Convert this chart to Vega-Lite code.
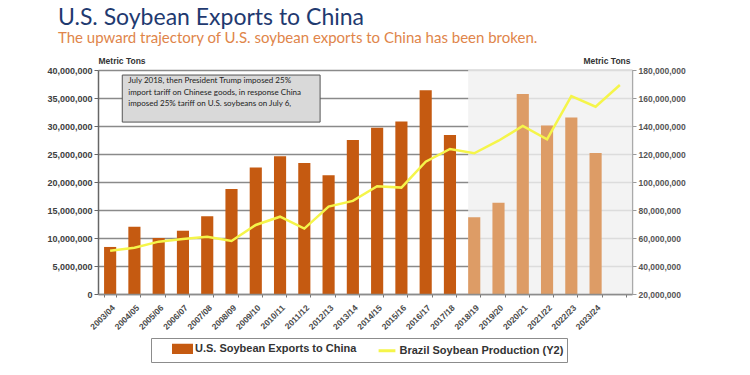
{
  "$schema": "https://vega.github.io/schema/vega-lite/v6.json",
  "width": 534,
  "height": 224,
  "autosize": {"type": "none"},
  "padding": {"left": 98, "top": 70, "right": 118, "bottom": 81},
  "background": "white",
  "title": {
    "text": "U.S. Soybean Exports to China",
    "subtitle": "The upward trajectory of U.S. soybean exports to China has been broken.",
    "anchor": "start",
    "frame": "group",
    "dx": -40,
    "font": "Lato",
    "fontSize": 23,
    "fontWeight": "normal",
    "color": "#1f3a70",
    "subtitleFont": "Lato",
    "subtitleFontSize": 15,
    "subtitleColor": "#e0854a",
    "subtitlePadding": 1,
    "offset": 10
  },
  "data": {
    "values": [
      {"year": "2003/04", "exports": 8400000, "brazil": 50900000},
      {"year": "2004/05", "exports": 12000000, "brazil": 53100000},
      {"year": "2005/06", "exports": 10000000, "brazil": 57400000},
      {"year": "2006/07", "exports": 11300000, "brazil": 59300000},
      {"year": "2007/08", "exports": 13900000, "brazil": 60900000},
      {"year": "2008/09", "exports": 18750000, "brazil": 57900000},
      {"year": "2009/10", "exports": 22600000, "brazil": 69300000},
      {"year": "2010/11", "exports": 24600000, "brazil": 75200000},
      {"year": "2011/12", "exports": 23400000, "brazil": 66700000},
      {"year": "2012/13", "exports": 21200000, "brazil": 82400000},
      {"year": "2013/14", "exports": 27500000, "brazil": 86500000},
      {"year": "2014/15", "exports": 29700000, "brazil": 97000000},
      {"year": "2015/16", "exports": 30800000, "brazil": 96000000},
      {"year": "2016/17", "exports": 36400000, "brazil": 114500000},
      {"year": "2017/18", "exports": 28400000, "brazil": 123600000},
      {"year": "2018/19", "exports": 13700000, "brazil": 120500000},
      {"year": "2019/20", "exports": 16300000, "brazil": 129500000},
      {"year": "2020/21", "exports": 35700000, "brazil": 140000000},
      {"year": "2021/22", "exports": 30100000, "brazil": 130500000},
      {"year": "2022/23", "exports": 31500000, "brazil": 161400000},
      {"year": "2023/24", "exports": 25200000, "brazil": 153800000},
      {"year": "2024/25", "exports": null, "brazil": 169300000}
    ]
  },
  "encoding": {
    "x": {
      "field": "year",
      "type": "ordinal",
      "title": null,
      "scale": {
        "domain": ["2003/04","2004/05","2005/06","2006/07","2007/08","2008/09","2009/10","2010/11","2011/12","2012/13","2013/14","2014/15","2015/16","2016/17","2017/18","2018/19","2019/20","2020/21","2021/22","2022/23","2023/24","2024/25"],
        "paddingInner": 0.5,
        "paddingOuter": 0.25
      },
      "axis": {
        "labelAngle": -45,
        "labelAlign": "right",
        "labelBaseline": "top",
        "labelExpr": "datum.value == '2024/25' ? '' : datum.value",
        "labelFont": "Liberation Sans",
        "labelFontSize": 8.5,
        "labelFontWeight": "bold",
        "labelColor": "#4a4a4a",
        "labelPadding": 6,
        "domainColor": "#8c8c8c",
        "domainWidth": 1.5,
        "tickBand": "extent",
        "tickColor": "#777777",
        "tickSize": 3,
        "grid": false
      }
    }
  },
  "layer": [
    {
      "layer": [
        {
          "data": {"values": [{"year": "2018/19"}]},
          "mark": {"type": "rect", "fill": "#f0f0f0", "opacity": 0.8},
          "encoding": {
            "x": {"field": "year", "type": "ordinal", "bandPosition": 0},
            "x2": {"value": "width"}
          }
        },
        {
          "mark": {"type": "bar"},
          "encoding": {
            "y": {
              "field": "exports",
              "type": "quantitative",
              "title": "Metric Tons",
              "scale": {"domain": [0, 40000000], "nice": false},
              "axis": {
                "values": [0,5000000,10000000,15000000,20000000,25000000,30000000,35000000,40000000],
                "labelOverlap": false,
                "format": ",d",
                "labelFont": "Liberation Sans",
                "labelFontSize": 9,
                "labelFontWeight": "bold",
                "labelColor": "#404040",
                "labelPadding": 2,
                "tickSize": 4,
                "tickColor": "#666666",
                "domainColor": "#666666",
                "domainWidth": 1.5,
                "grid": true,
                "gridColor": "#8a8a8a",
                "gridWidth": 1.5,
                "titleAngle": 0,
                "titleX": 0,
                "titleY": -5,
                "titleAlign": "left",
                "titleBaseline": "bottom",
                "titleFont": "Liberation Sans",
                "titleFontSize": 8.5,
                "titleFontWeight": "bold",
                "titleColor": "#333333"
              }
            },
            "color": {
              "datum": "U.S. Soybean Exports to China",
              "type": "nominal",
              "condition": {"test": "datum.year >= '2018/19'", "value": "#dd9c66"},
              "scale": {
                "domain": ["U.S. Soybean Exports to China", "Brazil Soybean Production (Y2)"],
                "range": ["#c55a11", "#f5f54a"]
              },
              "legend": {
                "orient": "none",
                "legendX": 53,
                "legendY": 268,
                "direction": "horizontal",
                "title": null,
                "labelFont": "Liberation Sans",
                "labelFontSize": 11,
                "labelFontWeight": "bold",
                "labelColor": "#333333",
                "labelLimit": 300,
                "labelOffset": 5,
                "strokeColor": "#8c8c8c",
                "fillColor": "white",
                "padding": 3,
                "columnPadding": 1.5,
                "symbolSize": 144,
                "symbolOffset": 21,
                "symbolStrokeWidth": 0,
                "encode": {
                  "symbols": {
                    "update": {
                      "shape": {"signal": "datum.value == 'U.S. Soybean Exports to China' ? 'M-1.5,-0.6H1.5V0.6H-1.5Z' : 'M-1.4,0H1.4'"},
                      "fill": {"signal": "datum.value == 'U.S. Soybean Exports to China' ? '#c55a11' : 'transparent'"},
                      "stroke": {"signal": "datum.value == 'U.S. Soybean Exports to China' ? 'transparent' : '#f5f54a'"},
                      "strokeWidth": {"value": 3},
                      "opacity": {"value": 1}
                    }
                  }
                }
              }
            }
          }
        }
      ]
    },
    {
      "data": {"values": [{"note": "July 2018"}]},
      "layer": [
        {
          "mark": {"type": "rect", "fill": "#d9d9d9", "stroke": "#555555", "strokeWidth": 1},
          "encoding": {
            "x": {"datum": "2003/04", "type": "ordinal", "bandPosition": 1.5},
            "x2": {"datum": "2011/12", "bandPosition": 1.8},
            "y": {"datum": 39100000, "type": "quantitative", "scale": {"domain": [0, 40000000], "nice": false}, "axis": null},
            "y2": {"datum": 30700000}
          }
        },
        {
          "mark": {"type": "text", "align": "left", "baseline": "top", "font": "Lato", "fontSize": 8, "lineHeight": 11.5, "color": "#222222"},
          "encoding": {
            "x": {"datum": "2004/05", "type": "ordinal", "bandPosition": 0},
            "y": {"datum": 38700000, "type": "quantitative", "axis": null},
            "text": {"value": ["July 2018, then President Trump imposed 25%", "import tariff on Chinese goods, in response China", "imposed 25% tariff on U.S. soybeans on July 6,"]}
          }
        }
      ]
    },
    {
      "mark": {"type": "line", "strokeWidth": 2.5},
      "encoding": {
        "y": {
          "field": "brazil",
          "type": "quantitative",
          "title": "Metric Tons",
          "scale": {"domain": [20000000, 180000000], "nice": false},
          "axis": {
            "orient": "right",
            "values": [20000000,40000000,60000000,80000000,100000000,120000000,140000000,160000000,180000000],
            "labelOverlap": false,
            "format": ",d",
            "labelFont": "Liberation Sans",
            "labelFontSize": 8.5,
            "labelFontWeight": "bold",
            "labelColor": "#555555",
            "labelPadding": 2,
            "tickSize": 4,
            "tickColor": "#999999",
            "domainColor": "#aaaaaa",
            "domainWidth": 1.5,
            "grid": false,
            "titleAngle": 0,
            "titleX": -2,
            "titleY": -5,
            "titleAlign": "right",
            "titleBaseline": "bottom",
            "titleFont": "Liberation Sans",
            "titleFontSize": 8.5,
            "titleFontWeight": "bold",
            "titleColor": "#333333"
          }
        },
        "color": {"datum": "Brazil Soybean Production (Y2)", "type": "nominal"}
      }
    }
  ],
  "resolve": {"scale": {"y": "independent"}},
  "config": {"view": {"stroke": null}}
}
